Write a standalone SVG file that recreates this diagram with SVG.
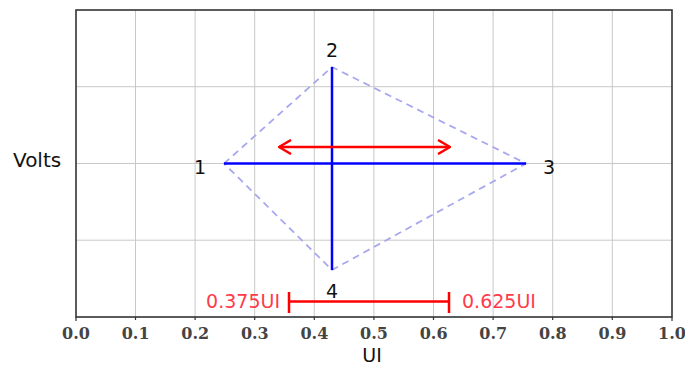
<svg xmlns="http://www.w3.org/2000/svg" width="685" height="367" viewBox="0 0 685 367">
<defs>
<style>
.grid{stroke:#c8c8c8;stroke-width:1;fill:none}
.frame{stroke:#333;stroke-width:1.6;fill:none}
.tick{font-family:"DejaVu Serif","Liberation Serif",serif;font-weight:bold;font-size:16px;fill:#444;text-anchor:middle}
.lbl{font-family:"DejaVu Sans","Verdana",sans-serif;fill:#111}
.num{font-family:"DejaVu Sans",sans-serif;font-size:19px;fill:#111;text-anchor:middle}
.blue{stroke:#0000ff;stroke-width:2.5;fill:none}
.dash{stroke:#a8a8ee;stroke-width:1.8;stroke-dasharray:7 5;fill:none}
.red{stroke:#ff0000;stroke-width:2.5;fill:none}
.rtxt{font-family:"DejaVu Sans",sans-serif;font-size:19px;fill:#ff3b4b}
</style>
<marker id="chev" viewBox="0 0 14 16" refX="13" refY="8" markerWidth="14" markerHeight="16" markerUnits="userSpaceOnUse" orient="auto-start-reverse">
<path d="M1,1 L13,8 L1,15" fill="none" stroke="#ff0000" stroke-width="2.5"/>
</marker>
</defs>
<rect width="685" height="367" fill="#fff"/>
<g id="grid">
<path class="grid" d="M135.5,10V317M195.1,10V317M254.7,10V317M314.3,10V317M373.9,10V317M433.5,10V317M493.1,10V317M552.7,10V317M612.3,10V317M76,86.7H672M76,163.5H672M76,240.2H672"/>
<rect class="frame" x="76" y="10" width="596" height="307"/>
<path stroke="#333" stroke-width="1.2" d="M76,317v4M135.5,317v3M195.1,317v3M254.7,317v3M314.3,317v3M373.9,317v3M433.5,317v3M493.1,317v3M552.7,317v3M612.3,317v3M672,317v4"/>
</g>
<g id="axis-labels">
<text class="tick" x="76" y="339">0.0</text>
<text class="tick" x="135.6" y="339">0.1</text>
<text class="tick" x="195.2" y="339">0.2</text>
<text class="tick" x="254.8" y="339">0.3</text>
<text class="tick" x="314.4" y="339">0.4</text>
<text class="tick" x="374" y="339">0.5</text>
<text class="tick" x="433.6" y="339">0.6</text>
<text class="tick" x="493.2" y="339">0.7</text>
<text class="tick" x="552.8" y="339">0.8</text>
<text class="tick" x="612.4" y="339">0.9</text>
<text class="tick" x="672" y="339">1.0</text>
<text class="lbl" x="372" y="362" font-size="19" text-anchor="middle">UI</text>
<text class="lbl" x="13" y="167" font-size="20">Volts</text>
</g>
<g id="eye">
<polygon class="dash" points="224,163.5 332,67 526,163.5 332,270"/>
<line class="blue" x1="224" y1="163.5" x2="526" y2="163.5"/>
<line class="blue" x1="332" y1="67" x2="332" y2="270"/>
</g>
<g id="point-labels">
<text class="num" x="332" y="57">2</text>
<text class="num" x="200" y="174">1</text>
<text class="num" x="549" y="174">3</text>
<text class="num" x="332" y="298">4</text>
</g>
<g id="connectors">
<line class="red" x1="279" y1="147" x2="450" y2="147" marker-start="url(#chev)" marker-end="url(#chev)"/>
</g>
<g id="window">
<path class="red" d="M289,301.5H449M289,292V313M449,292V313"/>
<text class="rtxt" x="280" y="308" text-anchor="end">0.375UI</text>
<text class="rtxt" x="462" y="308">0.625UI</text>
</g>
</svg>
